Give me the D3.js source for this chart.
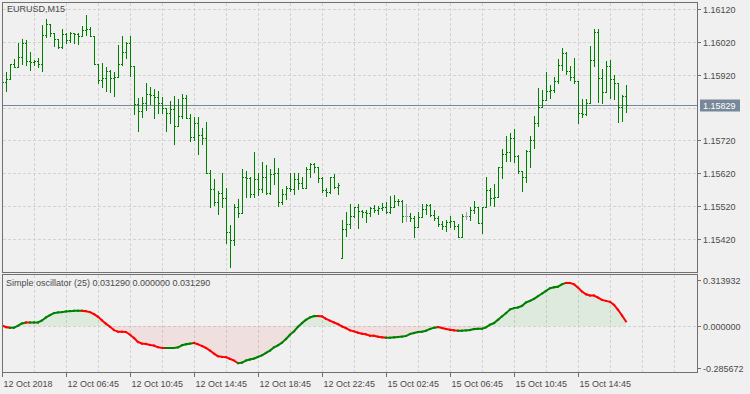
<!DOCTYPE html>
<html>
<head>
<meta charset="utf-8">
<script src="https://cdnjs.cloudflare.com/ajax/libs/d3/7.8.5/d3.min.js"></script>
<style>
    body { margin: 0; background: #f0f0f0; }
    svg { display: block; font-family: "Liberation Sans", Arial, sans-serif; font-size: 9px; }
</style>
</head>
<body>
<svg width="750" height="394"></svg>
<script>
// EURUSD M15 bars, first bar is 12 Oct 02:45
var opens = [1.15890,
    1.15899,1.15906,1.15953,1.15944,1.15973,1.16016,1.15962,1.15960,1.15962,1.15953,
    1.16042,1.16073,1.16048,1.16028,1.16003,1.16044,1.16026,1.16048,1.16043,1.16038,
    1.16056,1.16058,1.16038,1.15952,1.15904,1.15909,1.15931,1.15909,1.15912,1.15953,
    1.15990,1.16016,1.15948,1.15831,1.15811,1.15833,1.15861,1.15858,1.15853,1.15833,
    1.15818,1.15802,1.15815,1.15764,1.15795,1.15848,1.15787,1.15729,1.15772,1.15737,
    1.15728,1.15620,1.15571,1.15534,1.15561,1.15544,1.15440,1.15417,1.15516,1.15498,
    1.15608,1.15605,1.15557,1.15603,1.15572,1.15608,1.15559,1.15618,1.15622,1.15532,
    1.15557,1.15574,1.15571,1.15603,1.15589,1.15576,1.15633,1.15648,1.15638,1.15605,
    1.15569,1.15562,1.15608,1.15579,1.15361,1.15450,1.15465,1.15490,1.15516,1.15505,
    1.15501,1.15498,1.15513,1.15508,1.15513,1.15518,1.15501,1.15518,1.15536,1.15537,
    1.15490,1.15490,1.15483,1.15456,1.15488,1.15511,1.15523,1.15493,1.15483,1.15466,
    1.15461,1.15473,1.15476,1.15460,1.15427,1.15490,1.15490,1.15508,1.15518,1.15470,
    1.15518,1.15569,1.15544,1.15549,1.15638,1.15678,1.15686,1.15726,1.15673,1.15628,
    1.15608,1.15689,1.15721,1.15772,1.15823,1.15843,1.15871,1.15873,1.15902,1.15949,
    1.15987,1.15932,1.15914,1.15902,1.15802,1.15800,1.15835,1.15965,1.16049,1.15909,
    1.15868,1.15947,1.15907,1.15894,1.15821,1.15855];
var highs = [1.15910,
    1.15927,1.15953,1.15967,1.16018,1.16028,1.16026,1.15988,1.15965,1.15970,1.16071,
    1.16089,1.16073,1.16048,1.16028,1.16058,1.16048,1.16051,1.16048,1.16048,1.16068,
    1.16102,1.16066,1.16038,1.15952,1.15957,1.15944,1.15934,1.15929,1.16010,1.16038,
    1.16021,1.16038,1.15948,1.15848,1.15851,1.15894,1.15882,1.15876,1.15871,1.15853,
    1.15818,1.15840,1.15855,1.15845,1.15861,1.15858,1.15800,1.15792,1.15790,1.15757,
    1.15777,1.15630,1.15603,1.15567,1.15622,1.15576,1.15463,1.15527,1.15542,1.15633,
    1.15628,1.15610,1.15685,1.15620,1.15654,1.15645,1.15632,1.15667,1.15637,1.15572,
    1.15581,1.15620,1.15620,1.15620,1.15610,1.15640,1.15650,1.15650,1.15638,1.15610,
    1.15574,1.15610,1.15618,1.15589,1.15478,1.15502,1.15527,1.15516,1.15527,1.15508,
    1.15508,1.15516,1.15523,1.15520,1.15531,1.15534,1.15551,1.15554,1.15542,1.15539,
    1.15527,1.15500,1.15490,1.15501,1.15527,1.15527,1.15527,1.15508,1.15490,1.15476,
    1.15478,1.15490,1.15476,1.15466,1.15496,1.15501,1.15518,1.15536,1.15518,1.15518,
    1.15608,1.15574,1.15586,1.15640,1.15693,1.15733,1.15744,1.15754,1.15676,1.15628,
    1.15691,1.15733,1.15794,1.15879,1.15873,1.15929,1.15889,1.15912,1.15967,1.16000,
    1.15990,1.15947,1.15970,1.15902,1.15845,1.15845,1.16007,1.16058,1.16058,1.15936,
    1.15963,1.15965,1.15919,1.15894,1.15858,1.15889];
var lows = [1.15880,
    1.15871,1.15906,1.15944,1.15944,1.15953,1.15950,1.15935,1.15950,1.15944,1.15932,
    1.16036,1.16038,1.16008,1.16000,1.16000,1.16016,1.16021,1.16018,1.16012,1.16038,
    1.16041,1.16038,1.15952,1.15894,1.15882,1.15871,1.15868,1.15855,1.15912,1.15950,
    1.15970,1.15917,1.15799,1.15750,1.15790,1.15813,1.15830,1.15787,1.15802,1.15802,
    1.15750,1.15774,1.15709,1.15764,1.15787,1.15787,1.15719,1.15721,1.15679,1.15709,
    1.15620,1.15518,1.15523,1.15496,1.15518,1.15407,1.15336,1.15402,1.15488,1.15498,
    1.15549,1.15549,1.15547,1.15554,1.15562,1.15557,1.15557,1.15587,1.15521,1.15527,
    1.15541,1.15567,1.15557,1.15571,1.15574,1.15574,1.15608,1.15625,1.15592,1.15564,
    1.15552,1.15559,1.15574,1.15557,1.15361,1.15430,1.15452,1.15486,1.15452,1.15486,
    1.15473,1.15490,1.15501,1.15496,1.15508,1.15498,1.15500,1.15518,1.15523,1.15473,
    1.15476,1.15476,1.15427,1.15456,1.15486,1.15496,1.15490,1.15478,1.15461,1.15449,
    1.15445,1.15458,1.15449,1.15425,1.15425,1.15480,1.15478,1.15500,1.15468,1.15439,
    1.15516,1.15523,1.15520,1.15549,1.15605,1.15658,1.15658,1.15655,1.15620,1.15567,
    1.15594,1.15640,1.15696,1.15764,1.15823,1.15843,1.15848,1.15868,1.15896,1.15934,
    1.15922,1.15904,1.15894,1.15774,1.15790,1.15797,1.15835,1.15947,1.15838,1.15835,
    1.15868,1.15848,1.15845,1.15777,1.15780,1.15808];
var closes = [1.15899,
    1.15906,1.15953,1.15944,1.15973,1.16016,1.15962,1.15960,1.15962,1.15953,1.16042,
    1.16073,1.16048,1.16028,1.16003,1.16044,1.16026,1.16048,1.16043,1.16038,1.16056,
    1.16058,1.16038,1.15952,1.15904,1.15909,1.15931,1.15909,1.15912,1.15953,1.15990,
    1.16016,1.15948,1.15831,1.15811,1.15833,1.15861,1.15858,1.15853,1.15833,1.15818,
    1.15802,1.15815,1.15764,1.15795,1.15848,1.15787,1.15729,1.15772,1.15737,1.15728,
    1.15620,1.15571,1.15534,1.15561,1.15544,1.15440,1.15417,1.15516,1.15498,1.15608,
    1.15605,1.15557,1.15603,1.15572,1.15608,1.15559,1.15618,1.15622,1.15532,1.15557,
    1.15574,1.15571,1.15603,1.15589,1.15576,1.15633,1.15648,1.15638,1.15605,1.15569,
    1.15562,1.15608,1.15579,1.15584,1.15450,1.15465,1.15490,1.15516,1.15505,1.15501,
    1.15498,1.15513,1.15508,1.15513,1.15518,1.15501,1.15518,1.15536,1.15537,1.15490,
    1.15490,1.15483,1.15456,1.15488,1.15511,1.15523,1.15493,1.15483,1.15466,1.15461,
    1.15473,1.15476,1.15460,1.15427,1.15490,1.15490,1.15508,1.15518,1.15470,1.15518,
    1.15569,1.15544,1.15549,1.15638,1.15678,1.15686,1.15726,1.15673,1.15628,1.15608,
    1.15689,1.15721,1.15772,1.15823,1.15843,1.15871,1.15873,1.15902,1.15949,1.15987,
    1.15932,1.15914,1.15902,1.15802,1.15800,1.15835,1.15965,1.16049,1.15909,1.15868,
    1.15947,1.15907,1.15894,1.15821,1.15855,1.15829];

// Simple oscillator (25), one value per bar
var osc = [0.0045,-0.0068,-0.0113,-0.0113,0.0023,0.0181,0.0249,0.0247,0.0249,0.0251,
    0.0384,0.0588,0.0746,0.0881,0.0927,0.0949,0.0994,0.1017,0.1040,0.1042,
    0.1044,0.1017,0.0949,0.0814,0.0633,0.0384,0.0158,-0.0045,-0.0271,-0.0384,
    -0.0386,-0.0407,-0.0588,-0.0814,-0.1085,-0.1198,-0.1220,-0.1288,-0.1333,-0.1446,
    -0.1492,-0.1494,-0.1490,-0.1488,-0.1446,-0.1311,-0.1243,-0.1198,-0.1153,-0.1243,
    -0.1356,-0.1492,-0.1672,-0.1876,-0.2056,-0.2102,-0.2124,-0.2237,-0.2350,-0.2531,
    -0.2486,-0.2350,-0.2282,-0.2215,-0.2102,-0.1989,-0.1831,-0.1672,-0.1446,-0.1311,
    -0.1130,-0.0881,-0.0588,-0.0362,-0.0045,0.0203,0.0429,0.0588,0.0678,0.0680,
    0.0655,0.0497,0.0362,0.0249,0.0136,-0.0023,-0.0136,-0.0294,-0.0362,-0.0452,
    -0.0520,-0.0565,-0.0655,-0.0657,-0.0723,-0.0768,-0.0791,-0.0789,-0.0768,-0.0746,
    -0.0723,-0.0678,-0.0542,-0.0475,-0.0407,-0.0384,-0.0316,-0.0203,-0.0113,-0.0068,
    -0.0136,-0.0203,-0.0249,-0.0294,-0.0316,-0.0314,-0.0294,-0.0271,-0.0203,-0.0181,
    -0.0179,-0.0090,0.0090,0.0203,0.0429,0.0655,0.0881,0.1130,0.1220,0.1266,
    0.1379,0.1605,0.1718,0.1853,0.2034,0.2215,0.2395,0.2576,0.2644,0.2689,
    0.2847,0.2938,0.2936,0.2847,0.2621,0.2350,0.2169,0.2079,0.2077,0.1944,
    0.1785,0.1718,0.1650,0.1446,0.1107,0.0723,0.031290];

var priceTicks = [1.16120, 1.16020, 1.15920, 1.15820, 1.15720, 1.15620, 1.15520, 1.15420];
var currentPrice = 1.15829;
var oscTicks = [0.313932, 0.000000, -0.285672];
var timeTickBars = [0, 16, 32, 48, 64, 80, 96, 112, 128, 144];
var timeTickLabels = ['12 Oct 2018', '12 Oct 06:45', '12 Oct 10:45', '12 Oct 14:45', '12 Oct 18:45',
    '12 Oct 22:45', '15 Oct 02:45', '15 Oct 06:45', '15 Oct 10:45', '15 Oct 14:45'];

var svg = d3.select('svg');
var left = 2, right = 697;
var mainTop = 2, mainBottom = 272, oscTop = 274, oscBottom = 372;
var textColor = '#4a4a4a', gridColor = '#d2d2d2', frameColor = '#707070';

var x = d3.scaleLinear().domain([0, 173.75]).range([left, right]);
var y = d3.scaleLinear().domain([1.15420, 1.16120]).range([239, 9]);
var yOsc = d3.scaleLinear().domain([oscTicks[2], oscTicks[0]]).range([368, 280]);

svg.append('rect').attr('width', 750).attr('height', 394).attr('fill', '#f0f0f0');

// clip regions for the two panes
var defs = svg.append('defs');
defs.append('clipPath').attr('id', 'clipMain').append('rect')
    .attr('x', left + 1).attr('y', mainTop + 1)
    .attr('width', right - left - 1).attr('height', mainBottom - mainTop - 1);
defs.append('clipPath').attr('id', 'clipOsc').append('rect')
    .attr('x', left + 1).attr('y', oscTop + 1)
    .attr('width', right - left - 1).attr('height', oscBottom - oscTop - 1);

var grid = svg.append('g')
    .attr('stroke', gridColor).attr('stroke-dasharray', '3,2').attr('shape-rendering', 'crispEdges');

// horizontal grid on price levels
priceTicks.forEach(function(p) {
    var py = Math.round(y(p)) + 0.5;
    grid.append('line').attr('x1', left + 1).attr('x2', right).attr('y1', py).attr('y2', py);
});
// zero level in oscillator pane
grid.append('line').attr('x1', left + 1).attr('x2', right)
    .attr('y1', Math.round(yOsc(0)) + 0.5).attr('y2', Math.round(yOsc(0)) + 0.5);

// vertical grid every 8 bars
d3.range(8, 174, 8).forEach(function(b) {
    var gx = Math.round(x(b)) + 0.5;
    grid.append('line').attr('x1', gx).attr('x2', gx).attr('y1', mainTop + 1).attr('y2', mainBottom);
    grid.append('line').attr('x1', gx).attr('x2', gx).attr('y1', oscTop + 1).attr('y2', oscBottom);
});

// price line
var cpy = Math.round(y(currentPrice)) + 0.5;
svg.append('line')
    .attr('x1', left).attr('x2', right).attr('y1', cpy).attr('y2', cpy)
    .attr('stroke', '#778899').attr('shape-rendering', 'crispEdges');

// OHLC bars
var bars = svg.append('g').attr('clip-path', 'url(#clipMain)').attr('shape-rendering', 'crispEdges');
opens.forEach(function(o, i) {
    var bx = Math.round(x(i));
    var color = o === closes[i] ? '#a0a0a0' : '#008000';
    var yh = Math.round(y(highs[i])), yl = Math.round(y(lows[i]));
    bars.append('rect')
        .attr('x', bx).attr('y', yh).attr('width', 1).attr('height', yl - yh + 1)
        .attr('fill', color);
    bars.append('rect')
        .attr('x', bx - 1).attr('y', Math.round(y(o))).attr('width', 1).attr('height', 1)
        .attr('fill', color);
    bars.append('rect')
        .attr('x', bx + 1).attr('y', Math.round(y(closes[i]))).attr('width', 1).attr('height', 1)
        .attr('fill', color);
});

// oscillator fill above and below zero
var oscG = svg.append('g').attr('clip-path', 'url(#clipOsc)');
oscG.append('path')
    .datum(osc)
    .attr('fill', 'rgba(0,160,0,0.07)')
    .attr('d', d3.area()
        .x(function(d, i) { return x(i); })
        .y0(yOsc(0))
        .y1(function(d) { return yOsc(Math.max(d, 0)); }));
oscG.append('path')
    .datum(osc)
    .attr('fill', 'rgba(230,0,0,0.07)')
    .attr('d', d3.area()
        .x(function(d, i) { return x(i); })
        .y0(yOsc(0))
        .y1(function(d) { return yOsc(Math.min(d, 0)); }));

// oscillator line, coloured by direction
osc.forEach(function(d, i, a) {
    if (i == 0) return;
    oscG.append('line')
        .attr('x1', x(i - 1)).attr('y1', yOsc(a[i - 1]))
        .attr('x2', x(i)).attr('y2', yOsc(d))
        .attr('stroke', d >= a[i - 1] ? '#008000' : '#ff0000')
        .attr('stroke-width', 2)
        .attr('stroke-linecap', 'square');
});

// pane frames
var frames = svg.append('g').attr('fill', 'none').attr('stroke', frameColor).attr('shape-rendering', 'crispEdges');
frames.append('rect').attr('x', left + 0.5).attr('y', mainTop + 0.5)
    .attr('width', right - left).attr('height', mainBottom - mainTop);
frames.append('rect').attr('x', left + 0.5).attr('y', oscTop + 0.5)
    .attr('width', right - left).attr('height', oscBottom - oscTop);

// right price scale
var axisG = svg.append('g').attr('fill', textColor);
priceTicks.forEach(function(p) {
    if (Math.abs(p - currentPrice) < 0.0002) return;
    var py = Math.round(y(p)) + 0.5;
    svg.append('line').attr('x1', right).attr('x2', right + 4).attr('y1', py).attr('y2', py)
        .attr('stroke', frameColor).attr('shape-rendering', 'crispEdges');
    axisG.append('text').attr('x', right + 6).attr('y', py).attr('dy', '0.35em').text(p.toFixed(5));
});

// current price label
svg.append('rect')
    .attr('x', right + 3).attr('y', cpy - 6).attr('width', 40).attr('height', 12)
    .attr('fill', '#778899');
svg.append('text')
    .attr('x', right + 6).attr('y', cpy).attr('dy', '0.35em')
    .attr('fill', '#ffffff').text(currentPrice.toFixed(5));

// oscillator scale
oscTicks.forEach(function(v) {
    var oy = Math.round(yOsc(v)) + 0.5;
    svg.append('line').attr('x1', right).attr('x2', right + 4).attr('y1', oy).attr('y2', oy)
        .attr('stroke', frameColor).attr('shape-rendering', 'crispEdges');
    axisG.append('text').attr('x', right + 6).attr('y', oy).attr('dy', '0.35em').text(v.toFixed(6));
});

// time axis
timeTickBars.forEach(function(b, i) {
    var tx = Math.round(x(b)) + 0.5;
    svg.append('line').attr('x1', tx).attr('x2', tx).attr('y1', oscBottom).attr('y2', oscBottom + 5)
        .attr('stroke', frameColor).attr('shape-rendering', 'crispEdges');
    axisG.append('text').attr('x', tx + 1).attr('y', 387).text(timeTickLabels[i]);
});

// pane titles
axisG.append('text').attr('x', 7).attr('y', 9).attr('dy', '0.35em').text('EURUSD,M15');
axisG.append('text').attr('x', 6).attr('y', 283).attr('dy', '0.35em')
    .text('Simple oscillator (25) 0.031290 0.000000 0.031290');
</script>
</body>
</html>
